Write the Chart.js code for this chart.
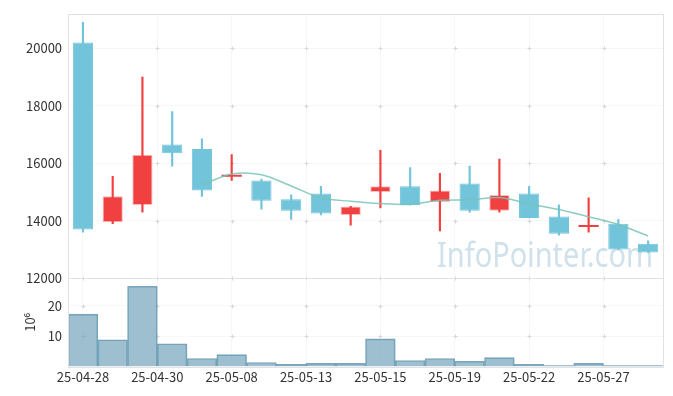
<!DOCTYPE html>
<html>
<head>
<meta charset="utf-8">
<script src="https://cdn.jsdelivr.net/npm/chart.js@4"></script>
<style>
  html, body { margin: 0; background: #fff; }
  #wrap { width: 673px; height: 396px; }
</style>
</head>
<body>
<div id="wrap"><canvas id="chart"></canvas></div>
<script>
// Daily OHLC + volume, 25-04-28 .. 25-05-28 (trading days only).
const dates = ['25-04-28','25-04-29','25-04-30','25-05-02','25-05-07','25-05-08','25-05-09','25-05-12','25-05-13','25-05-14',
               '25-05-15','25-05-16','25-05-19','25-05-20','25-05-21','25-05-22','25-05-23','25-05-26','25-05-27','25-05-28'];
const opens  = [20200, 13950, 14550, 16650, 16500, 15530, 15400, 14750, 14950, 14200, 15000, 15200, 14650, 15300, 14350, 14950, 14150, 13780, 13900, 13200];
const highs  = [20900, 15550, 19000, 17800, 16850, 16300, 15450, 14900, 15200, 14500, 16450, 15850, 15650, 15900, 16150, 15200, 14550, 14800, 14050, 13300];
const lows   = [13600, 13900, 14300, 15900, 14850, 15400, 14400, 14050, 14200, 13850, 14450, 14550, 13650, 14300, 14300, 14100, 13500, 13600, 13000, 12900];
const closes = [13700, 14850, 16300, 16350, 15050, 15600, 14700, 14350, 14250, 14500, 15200, 14550, 15050, 14350, 14900, 14100, 13550, 13850, 13000, 12900];
const ma5    = [null, null, null, null, 15250, 15630, 15600, 15210, 14790, 14680, 14600, 14570, 14710, 14730, 14810, 14590, 14390, 14140, 13870, 13470];
// volume in millions (10^6)
const volumes = [17.3, 8.8, 26.5, 7.5, 2.6, 3.9, 1.3, 0.65, 1.0, 1.0, 9.1, 1.95, 2.6, 1.7, 2.9, 0.65, 0.3, 1.0, 0.3, 0.3];

const tickLabels = ['25-04-28','25-04-30','25-05-08','25-05-13','25-05-15','25-05-19','25-05-22','25-05-27'];
const priceTicks = [12000, 14000, 16000, 18000, 20000];
const volTicks = [10, 20];

const UP = 'rgb(240,64,64)';
const DOWN = 'rgb(114,196,218)';
const FONT = { family: "'Noto Sans CJK KR', 'Noto Sans', sans-serif", size: 13 };
const TXT = '#333';
const GRID = '#f7f7f7';

const isUp = closes.map((c, i) => c >= opens[i]);
const candleCol = isUp.map(u => u ? UP : DOWN);
const thinBody = closes.map((c, i) => Math.abs(c - opens[i]) < 100);

// light frame + separator, "+" marks at grid crossings, watermark
const decor = {
  id: 'decor',
  beforeDatasetsDraw(chart) {
    const { ctx, scales } = chart;
    ctx.save();
    ctx.font = "34px 'Noto Sans', sans-serif";
    ctx.fillStyle = 'rgba(160,195,214,0.5)';
    ctx.textAlign = 'center';
    ctx.textBaseline = 'middle';
    ctx.fillText('InfoPointer.com', 545, 257, 216);

    ctx.strokeStyle = '#d6d6d6';
    ctx.lineWidth = 1;
    const xs = scales.xt.ticks.map(t => scales.xt.getPixelForValue(t.value));
    const ys = [];
    scales.y.ticks.forEach(t => ys.push(scales.y.getPixelForValue(t.value)));
    scales.yv.ticks.forEach(t => ys.push(scales.yv.getPixelForValue(t.value)));
    ctx.beginPath();
    xs.forEach(x => ys.forEach(y => {
      const px = Math.round(x) + 0.5, py = Math.round(y) + 0.5;
      ctx.moveTo(px - 2, py); ctx.lineTo(px + 2, py);
      ctx.moveTo(px, py - 2); ctx.lineTo(px, py + 2);
    }));
    ctx.stroke();
    ctx.restore();
  },
  afterDraw(chart) {
    const { ctx, chartArea: a, scales } = chart;
    ctx.save();
    ctx.strokeStyle = '#e2e2e2';
    ctx.lineWidth = 1;
    ctx.strokeRect(Math.round(a.left) + 0.5, Math.round(a.top) + 0.5, Math.round(a.width), Math.round(a.height));
    const sep = Math.round(scales.y.bottom) + 0.5;
    ctx.beginPath();
    ctx.moveTo(a.left, sep); ctx.lineTo(a.right, sep);
    ctx.stroke();
    ctx.restore();
  }
};

new Chart(document.getElementById('chart'), {
  type: 'bar',
  data: {
    labels: dates,
    datasets: [
      {
        type: 'line', label: 'MA5', data: ma5, yAxisID: 'y', order: 0,
        borderColor: 'rgba(120,195,182,0.85)', borderWidth: 1.5, pointRadius: 0, tension: 0.3, fill: false,
      },
      {
        label: 'body', data: opens.map((o, i) => [o, closes[i]]), yAxisID: 'y', order: 1, grouped: false,
        backgroundColor: candleCol,
        borderColor: isUp.map(u => u ? 'rgba(240,64,64,0.35)' : DOWN),
        borderWidth: thinBody.map(t => t ? 0 : 1), borderSkipped: false,
        barPercentage: 0.68, categoryPercentage: 1,
      },
      {
        label: 'wick', data: lows.map((l, i) => [l, highs[i]]), yAxisID: 'y', order: 2, grouped: false,
        backgroundColor: candleCol, barThickness: 1.5,
      },
      {
        label: 'volume', data: volumes, yAxisID: 'yv', order: 3, grouped: false,
        backgroundColor: 'rgba(110,160,185,0.68)', borderColor: 'rgba(100,150,175,0.85)', borderWidth: 1,
        borderSkipped: 'bottom', barPercentage: 1, categoryPercentage: 1,
      },
    ],
  },
  options: {
    responsive: true,
    maintainAspectRatio: false,
    animation: false,
    layout: { padding: { top: 10, right: 10, left: 20, bottom: 8 } },
    plugins: { legend: { display: false }, tooltip: { enabled: false } },
    scales: {
      x: { display: false, offset: true },
      xt: {
        type: 'linear', position: 'bottom', min: -0.5, max: 19.5, offset: false,
        afterBuildTicks: ax => { ax.ticks = tickLabels.map((_, i) => ({ value: i * 2.5 })); },
        ticks: { callback: (v, i) => tickLabels[i], maxRotation: 0, autoSkip: false, font: FONT, color: TXT, padding: 3 },
        grid: { color: GRID, drawTicks: false, offset: false },
        border: { display: false },
      },
      yv: {
        position: 'left', stack: 'panes', stackWeight: 1, min: 0, max: 29.15,
        afterBuildTicks: ax => { ax.ticks = volTicks.map(v => ({ value: v })); },
        ticks: { font: FONT, color: TXT, padding: 6, callback: v => String(v) },
        grid: { color: GRID, drawTicks: false },
        border: { display: false },
        title: { display: true, text: '10⁶', font: FONT, color: TXT, padding: 2 },
      },
      y: {
        position: 'left', stack: 'panes', stackWeight: 3, min: 12000, max: 21200,
        afterBuildTicks: ax => { ax.ticks = priceTicks.map(v => ({ value: v })); },
        ticks: { font: FONT, color: TXT, padding: 6, callback: v => String(v) },
        grid: { color: GRID, drawTicks: false },
        border: { display: false },
      },
    },
  },
  plugins: [decor],
});
</script>
</body>
</html>
